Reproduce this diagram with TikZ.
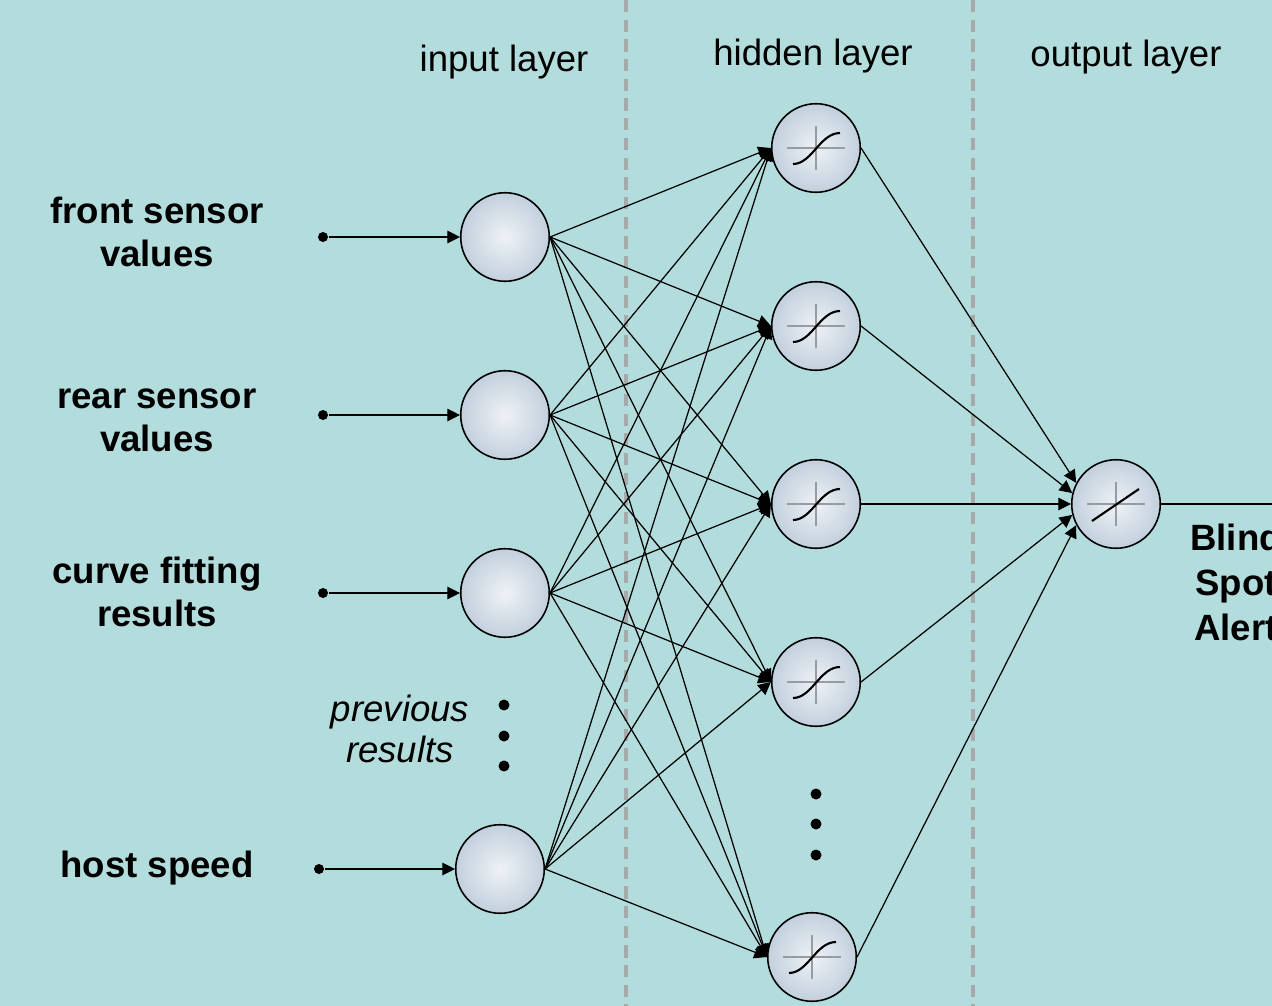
\documentclass[tikz,border=0pt]{standalone}
\usepackage{fontspec}
\setmainfont{Liberation Sans}
\usetikzlibrary{arrows.meta}

\definecolor{panel}{RGB}{179,220,220}
\definecolor{ballin}{RGB}{238,242,246}
\definecolor{ballout}{RGB}{194,208,221}
\definecolor{divider}{RGB}{166,170,171}
\definecolor{axisgray}{RGB}{150,156,162}

\begin{document}
\begin{tikzpicture}[x=0.01cm,y=-0.01cm,
    every node/.style={font=\fontsize{10.4}{12.2}\selectfont},
    neuron/.style={circle,draw,line width=0.45pt,minimum size=8.85mm,inner sep=0pt,
      inner color=ballin,outer color=ballout},
    sigmoid/.style={neuron,path picture={
      \draw[axisgray,line width=0.3pt,shift={(path picture bounding box.center)}]
        (-29,0) -- (29,0) (0,-22) -- (0,22);
      \draw[line width=0.6pt,shift={(path picture bounding box.center)}]
        (-23,16) .. controls (-4,16) and (4,-15) .. (24,-15);}},
    linear/.style={neuron,path picture={
      \draw[axisgray,line width=0.3pt,shift={(path picture bounding box.center)}]
        (-29,0) -- (29,0) (0,-22) -- (0,22);
      \draw[line width=0.6pt,shift={(path picture bounding box.center)}]
        (-24,17) -- (23,-15);}},
    dot/.style={circle,fill,inner sep=0pt,minimum size=1mm},
    feed/.style={-{Triangle[length=3.6pt,width=3.6pt]},line width=0.35pt},
    caption/.style={align=center,anchor=base},
    cue/.style={caption,font=\fontsize{10.4}{12.2}\selectfont\bfseries}]

  % panel and layer dividers
  \useasboundingbox (0,0) rectangle (1272,1006);
  \clip (0,0) rectangle (1272,1006);
  \fill[panel] (0,0) rectangle (1272,1006);
  \draw[divider,line width=0.9pt,dash pattern=on 3.5pt off 2.1pt] (626,0) -- (626,1006);
  \draw[divider,line width=0.9pt,dash pattern=on 3.5pt off 2.1pt] (973,0) -- (973,1006);

  % layer titles
  \node[caption] (intitle) at (504,71) {input layer};
  \node[caption] (hidtitle) at (813,65) {hidden layer};
  \node[caption] (outtitle) at (1126,66) {output layer};

  % inputs (base sits on the last line)
  \node[cue] (front) at (157,266) {front sensor\\values};
  \node[cue] (rear) at (157,451) {rear sensor\\values};
  \node[cue] (curve) at (157,626) {curve fitting\\results};
  \node[cue] (speed) at (157,877) {host speed};
  \node[caption,font=\fontsize{10.4}{11.6}\selectfont\itshape] (prev) at (400,762) {previous\\results};

  \draw
    (323,237) node[dot] (d1){}
    (323,415) node[dot] (d2){}
    (323,593) node[dot] (d3){}
    (319,869) node[dot] (d4){};
  \draw
    (505,237) node[neuron] (i1){}
    (505,415) node[neuron] (i2){}
    (505,593) node[neuron] (i3){}
    (500,869) node[neuron] (i4){};
  \draw
    (504,705) node[dot,minimum size=1.1mm] (p1){}
    (504,736) node[dot,minimum size=1.1mm] (p2){}
    (504,766) node[dot,minimum size=1.1mm] (p3){};

  % hidden layer
  \draw
    (816,148) node[sigmoid] (h1){}
    (816,326) node[sigmoid] (h2){}
    (816,504) node[sigmoid] (h3){}
    (816,682) node[sigmoid] (h4){}
    (812,957) node[sigmoid] (h5){};
  \draw
    (816,794) node[dot,minimum size=1.1mm] (q1){}
    (816,824) node[dot,minimum size=1.1mm] (q2){}
    (816,855) node[dot,minimum size=1.1mm] (q3){};

  % output
  \node[linear] (o) at (1116,504) {};
  \coordinate (exit) at (1300,504);
  \node[cue,font=\fontsize{10.4}{12.7}\selectfont\bfseries] (alert) at (1236,640) {Blind\\Spot\\Alert};

  \begin{scope}[feed]
    \draw (d1) to (i1);
    \draw (d2) to (i2);
    \draw (d3) to (i3);
    \draw (d4) to (i4);
    \draw (i1.east) to (h1.west);
    \draw (i1.east) to (h2.west);
    \draw (i1.east) to (h3.west);
    \draw (i1.east) to (h4.west);
    \draw (i1.east) to (h5.west);
    \draw (i2.east) to (h1.west);
    \draw (i2.east) to (h2.west);
    \draw (i2.east) to (h3.west);
    \draw (i2.east) to (h4.west);
    \draw (i2.east) to (h5.west);
    \draw (i3.east) to (h1.west);
    \draw (i3.east) to (h2.west);
    \draw (i3.east) to (h3.west);
    \draw (i3.east) to (h4.west);
    \draw (i3.east) to (h5.west);
    \draw (i4.east) to (h1.west);
    \draw (i4.east) to (h2.west);
    \draw (i4.east) to (h3.west);
    \draw (i4.east) to (h4.west);
    \draw (i4.east) to (h5.west);
    \draw (h1.east) to (o.152);
    \draw (h2.east) to (o.166);
    \draw (h3.east) to (o.west);
    \draw (h4.east) to (o.194);
    \draw (h5.east) to (o.208);
  \end{scope}
  \draw[line width=0.35pt] (o.east) -- (exit);
\end{tikzpicture}
\end{document}
